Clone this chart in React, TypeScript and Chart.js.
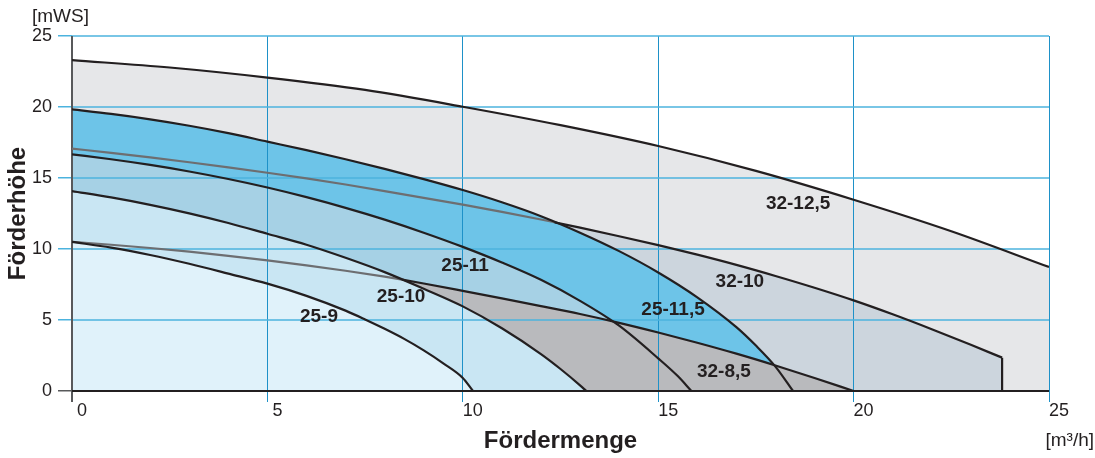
import React, { useEffect, useRef } from 'react';
import { Chart, registerables } from 'chart.js';

Chart.register(...registerables);

// ---- data (Q in m³/h, H in mWS) ----
const Q_25_9 = [0, 1, 2, 3, 4, 5, 6, 7, 7.5, 8, 8.5, 9, 9.5, 10, 10.26];
const H_25_9 = [10.5, 10.1, 9.58, 8.96, 8.27, 7.56, 6.7, 5.66, 5.04, 4.38, 3.67, 2.86, 1.95, 0.92, 0];

const Q_25_10 = [0, 1, 2, 3, 4, 5, 6, 7, 8, 9, 10, 11, 12, 12.5, 13, 13.16];
const H_25_10 = [14.08, 13.63, 13.11, 12.51, 11.83, 11.07, 10.3, 9.38, 8.37, 7.2, 5.96, 4.42, 2.6, 1.55, 0.4, 0];

const Q_32_85 = [0, 1, 2, 3, 4, 5, 6, 7, 8, 8.45, 9, 10, 11, 12, 13, 14, 15, 16, 17, 18, 19, 20];
const H_32_85 = [10.5, 10.3, 10.07, 9.81, 9.52, 9.2, 8.85, 8.47, 8.05, 7.84, 7.57, 7.05, 6.52, 5.98, 5.42, 4.8, 4.12, 3.4, 2.63, 1.8, 0.92, 0];

const Q_25_11 = [0, 1, 2, 3, 4, 5, 6, 7, 8, 9, 10, 11, 12, 13, 14, 15, 15.5, 15.85];
const H_25_11 = [16.67, 16.32, 15.92, 15.46, 14.93, 14.33, 13.65, 12.9, 12.07, 11.15, 10.15, 9.05, 7.83, 6.35, 4.6, 2.3, 1.05, 0];

const Q_25_115 = [0, 1, 2, 3, 4, 5, 6, 7, 8, 9, 10, 11, 12, 13, 14, 15, 16, 17, 17.5, 18, 18.45];
const H_25_115 = [19.83, 19.51, 19.13, 18.68, 18.16, 17.56, 16.96, 16.32, 15.64, 14.92, 14.15, 13.29, 12.31, 11.15, 9.85, 8.35, 6.6, 4.5, 3.2, 1.72, 0];

const Q_32_10 = [0, 1, 2, 3, 4, 5, 6, 7, 8, 9, 10, 11, 12, 12.35, 13, 14, 15, 16, 17, 18, 19, 20, 21, 22, 23, 23.8];
const H_32_10 = [17.07, 16.77, 16.45, 16.11, 15.75, 15.37, 14.97, 14.54, 14.08, 13.6, 13.12, 12.62, 12.08, 11.88, 11.5, 10.9, 10.27, 9.6, 8.88, 8.1, 7.27, 6.38, 5.4, 4.35, 3.25, 2.35];

const Q_32_125 = [0, 2.5, 5, 7.5, 10, 12.5, 15, 17.5, 20, 22.5, 25];
const H_32_125 = [23.3, 22.78, 22.07, 21.2, 20.02, 18.72, 17.25, 15.5, 13.47, 11.25, 8.73];

// where the 32-x curves leave the neighbouring pump field (drawn grey before that)
const GREY_UNTIL_32_85 = 8.45;
const GREY_UNTIL_32_10 = 12.35;

const CURVE_NAMES = ['25-9', '25-10', '32-8,5', '25-11', '25-11,5', '32-10', '32-12,5'];
const LABEL_Q = [6.32, 8.42, 16.68, 10.06, 15.38, 17.09, 18.58];
const LABEL_H = [5.21, 6.62, 1.34, 8.8, 5.7, 7.68, 13.17];

const X_TICKS = [0, 5, 10, 15, 20, 25];
const X_TICK_LABELS = [' 0', ' 5', '10', '15', '20', '25'];
const Y_TICKS = [0, 5, 10, 15, 20, 25];

// ---- styles ----
const FONT = "'Liberation Sans', Arial, Helvetica, sans-serif";
const TEXT = '#231f20';
const BLACK = '#231f20';
const GREY_LINE = '#6d6e71';
const AXIS_GREY = '#58595b';
const V_GRID = '#1e91c8';
const H_GRID = '#4cb3de';
const FILLS = ['#e0f2fa', '#c9e6f3', '#b9babd', '#a6d1e5', '#6dc4e8', '#ccd5dd', '#e6e7e9'];

const pts = (q: number[], h: number[]) => q.map((x, i) => ({ x, y: h[i] }));

const overlay = {
  id: 'overlay',
  beforeDatasetsDraw(chart: any) {
    const { ctx, chartArea: a, scales } = chart;
    const xs = scales.x;
    const ys = scales.y;
    ctx.save();
    ctx.lineCap = 'butt';
    ctx.lineWidth = 1;
    ctx.strokeStyle = V_GRID;
    X_TICKS.forEach((v) => {
      if (v === 0) return;
      const px = Math.round(xs.getPixelForValue(v) - 0.5) + 0.5;
      ctx.beginPath();
      ctx.moveTo(px, a.top);
      ctx.lineTo(px, a.bottom);
      ctx.stroke();
    });
    ctx.lineWidth = 1.5;
    ctx.strokeStyle = H_GRID;
    Y_TICKS.forEach((v) => {
      if (v === 0) return;
      const py = ys.getPixelForValue(v);
      ctx.beginPath();
      ctx.moveTo(a.left, py);
      ctx.lineTo(a.right, py);
      ctx.stroke();
    });
    // axes
    ctx.lineWidth = 2;
    ctx.strokeStyle = AXIS_GREY;
    const x0 = xs.getPixelForValue(0);
    ctx.beginPath();
    ctx.moveTo(x0, a.top);
    ctx.lineTo(x0, a.bottom);
    ctx.stroke();
    ctx.strokeStyle = BLACK;
    const y0 = ys.getPixelForValue(0);
    ctx.beginPath();
    ctx.moveTo(a.left, y0);
    ctx.lineTo(a.right, y0);
    ctx.stroke();
    ctx.restore();
  },
  afterDraw(chart: any) {
    const { ctx, scales } = chart;
    const xs = scales.x;
    const ys = scales.y;
    ctx.save();
    ctx.fillStyle = TEXT;
    ctx.textBaseline = 'middle';
    ctx.textAlign = 'center';
    ctx.font = `bold 19px ${FONT}`;
    CURVE_NAMES.forEach((name, i) => {
      ctx.fillText(name, xs.getPixelForValue(LABEL_Q[i]), ys.getPixelForValue(LABEL_H[i]));
    });
    ctx.font = `19px ${FONT}`;
    ctx.textAlign = 'left';
    ctx.fillText('[mWS]', 32, 17);
    ctx.textAlign = 'right';
    ctx.fillText('[m³/h]', 1094, 441);
    ctx.restore();
  },
};

export default function App() {
  const ref = useRef<HTMLCanvasElement>(null);

  useEffect(() => {
    const canvas = ref.current;
    if (!canvas) return;

    const series = [
      { q: Q_25_9, h: H_25_9 },
      { q: Q_25_10, h: H_25_10 },
      { q: Q_32_85, h: H_32_85, greyUntil: GREY_UNTIL_32_85 },
      { q: Q_25_11, h: H_25_11 },
      { q: Q_25_115, h: H_25_115 },
      { q: Q_32_10, h: H_32_10, greyUntil: GREY_UNTIL_32_10 },
      { q: Q_32_125, h: H_32_125 },
    ];

    const datasets: any[] = series.map((s: any, i) => ({
      label: CURVE_NAMES[i],
      data: pts(s.q, s.h),
      fill: 'origin',
      backgroundColor: FILLS[i],
      borderColor: BLACK,
      borderWidth: 2.2,
      pointRadius: 0,
      cubicInterpolationMode: 'monotone',
      borderJoinStyle: 'round',
      segment: s.greyUntil !== undefined
        ? { borderColor: (c: any) => (c.p1.parsed.x <= s.greyUntil + 1e-9 ? GREY_LINE : BLACK) }
        : undefined,
    }));

    // vertical end of the 32-10 field
    const last = Q_32_10.length - 1;
    datasets.push({
      label: '32-10 end',
      data: [{ x: Q_32_10[last], y: H_32_10[last] }, { x: Q_32_10[last], y: 0 }],
      fill: false,
      borderColor: BLACK,
      borderWidth: 2.2,
      pointRadius: 0,
      tension: 0,
    });

    const chart = new Chart(canvas, {
      type: 'line',
      data: { datasets },
      options: {
        animation: false,
        responsive: true,
        maintainAspectRatio: false,
        devicePixelRatio: 1,
        layout: { padding: { top: 36, right: 46, bottom: 0, left: 0 } },
        plugins: {
          legend: { display: false },
          tooltip: { enabled: false },
          filler: { drawTime: 'beforeDatasetsDraw' },
        },
        scales: {
          x: {
            type: 'linear',
            min: 0,
            max: 25,
            afterFit: (s: any) => { s.height = 67; },
            afterBuildTicks: (s: any) => { s.ticks = X_TICKS.map((v) => ({ value: v })); },
            grid: {
              drawOnChartArea: false,
              tickLength: 11,
              color: (c: any) => (c.tick && c.tick.value === 0 ? AXIS_GREY : V_GRID),
              lineWidth: (c: any) => (c.tick && c.tick.value === 0 ? 2 : 1),
            },
            border: { display: false },
            ticks: {
              align: 'start',
              padding: 0,
              color: TEXT,
              font: { family: FONT, size: 18, lineHeight: 1 },
              maxRotation: 0,
              callback: (v: any) => {
                const i = X_TICKS.indexOf(Number(v));
                return i >= 0 ? X_TICK_LABELS[i] : '';
              },
            },
            title: {
              display: true,
              text: 'Fördermenge',
              color: TEXT,
              font: { family: FONT, size: 24, weight: 'bold' },
              padding: { top: 0, bottom: 2 },
            },
          },
          y: {
            type: 'linear',
            min: 0,
            max: 25,
            afterFit: (s: any) => { s.width = 72; },
            afterBuildTicks: (s: any) => { s.ticks = Y_TICKS.map((v) => ({ value: v })); },
            grid: {
              drawOnChartArea: false,
              tickLength: 14,
              color: (c: any) => (c.tick && c.tick.value === 0 ? AXIS_GREY : H_GRID),
              lineWidth: 1.5,
            },
            border: { display: false },
            ticks: {
              padding: 6,
              color: TEXT,
              font: { family: FONT, size: 18 },
            },
            title: {
              display: true,
              text: 'Förderhöhe',
              color: TEXT,
              font: { family: FONT, size: 24, weight: 'bold' },
              padding: { top: 4, bottom: 0 },
            },
          },
        },
      } as any,
      plugins: [overlay],
    });

    return () => chart.destroy();
  }, []);

  return (
    <div style={{ position: 'absolute', left: 0, top: 0, width: 1095, height: 458, background: '#fff' }}>
      <canvas ref={ref} />
    </div>
  );
}
